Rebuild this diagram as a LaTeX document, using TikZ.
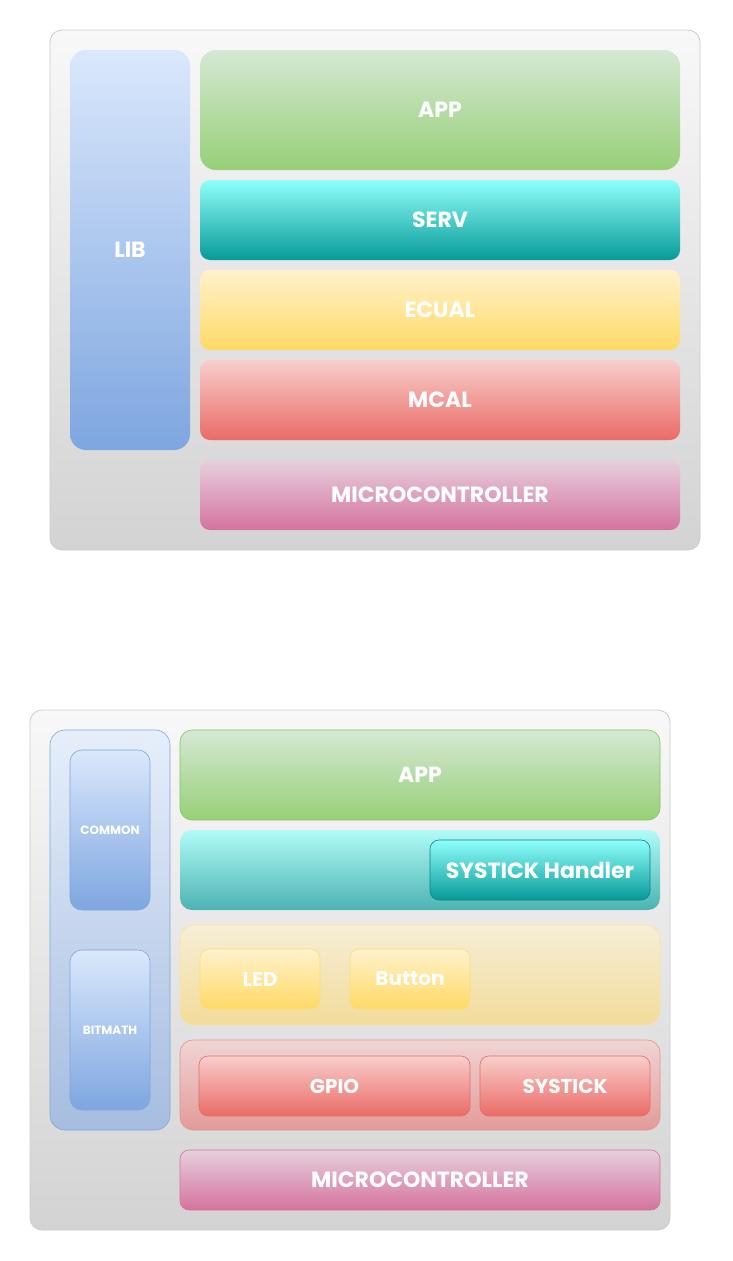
\documentclass[tikz,border=0pt]{standalone}
\usepackage{fontspec}
\setmainfont{Poppins}
\begin{document}
\begin{tikzpicture}[x=1pt,y=-1pt,
  lay/.style={rectangle, inner sep=0pt, text=white, font=\bfseries\fontsize{22}{26}\selectfont},
  mid/.style={lay, font=\bfseries\fontsize{20}{24}\selectfont},
  tiny/.style={lay, font=\bfseries\fontsize{12}{14}\selectfont},
  outerbox/.style={rectangle, inner sep=0pt, draw={rgb,255:red,204;green,204;blue,204}, line width=0.8pt, rounded corners=12pt, top color={rgb,255:red,248;green,248;blue,248}, bottom color={rgb,255:red,211;green,211;blue,211}},
  libc/.style={top color={rgb,255:red,218;green,232;blue,252}, bottom color={rgb,255:red,126;green,166;blue,224}},
  appc/.style={top color={rgb,255:red,213;green,232;blue,212}, bottom color={rgb,255:red,151;green,208;blue,119}},
  servc/.style={top color={rgb,255:red,143;green,255;blue,251}, bottom color={rgb,255:red,7;green,154;blue,152}},
  ecualc/.style={top color={rgb,255:red,255;green,242;blue,204}, bottom color={rgb,255:red,255;green,217;blue,102}},
  mcalc/.style={top color={rgb,255:red,248;green,206;blue,204}, bottom color={rgb,255:red,234;green,107;blue,102}},
  microc/.style={top color={rgb,255:red,230;green,208;blue,222}, bottom color={rgb,255:red,213;green,115;blue,157}},
]
\useasboundingbox (0,0) rectangle (732,1261);
\fill[white] (0,0) rectangle (732,1261);

% ---------- top diagram ----------
\node[outerbox, minimum width=650pt, minimum height=520pt] (outer1) at (375,290) {};
\node[lay, libc, rounded corners=16pt, minimum width=120pt, minimum height=400pt] (lib1) at (130,250) {LIB};
\node[lay, appc, rounded corners=16pt, minimum width=480pt, minimum height=120pt] (app1) at (440,110) {APP};
\node[lay, servc, rounded corners=10pt, minimum width=480pt, minimum height=80pt] (serv1) at (440,220) {SERV};
\node[lay, ecualc, rounded corners=10pt, minimum width=480pt, minimum height=80pt] (ecual1) at (440,310) {ECUAL};
\node[lay, mcalc, rounded corners=10pt, minimum width=480pt, minimum height=80pt] (mcal1) at (440,400) {MCAL};
\node[lay, microc, rounded corners=10pt, minimum width=480pt, minimum height=70pt] (micro1) at (440,495) {MICROCONTROLLER};

% ---------- bottom diagram ----------
\node[outerbox, minimum width=640pt, minimum height=520pt] (outer2) at (350,970) {};
\node[rectangle, inner sep=0pt, rounded corners=15pt, draw={rgb,255:red,126;green,166;blue,224}, line width=0.6pt,
  top color={rgb,255:red,230;green,238;blue,250}, bottom color={rgb,255:red,166;green,189;blue,224},
  minimum width=120pt, minimum height=400pt] (lib2) at (110,930) {};
\node[tiny, libc, draw={rgb,255:red,126;green,166;blue,224}, line width=0.6pt, rounded corners=12pt, minimum width=80pt, minimum height=160pt] (common) at (110,830) {COMMON};
\node[tiny, libc, draw={rgb,255:red,126;green,166;blue,224}, line width=0.6pt, rounded corners=12pt, minimum width=80pt, minimum height=160pt] (bitmath) at (110,1030) {BITMATH};

\node[lay, appc, draw={rgb,255:red,130;green,196;blue,100}, line width=0.6pt, rounded corners=12pt, minimum width=480pt, minimum height=90pt] (app2) at (420,775) {APP};

\node[rectangle, inner sep=0pt, rounded corners=12pt,
  top color={rgb,255:red,176;green,251;blue,247}, bottom color={rgb,255:red,76;green,179;blue,178},
  minimum width=480pt, minimum height=80pt] (serv2) at (420,870) {};
\node[lay, servc, draw={rgb,255:red,14;green,128;blue,136}, line width=0.6pt, rounded corners=9pt, minimum width=220pt, minimum height=60pt] (handler) at (540,870) {SYSTICK Handler};

\node[rectangle, inner sep=0pt, rounded corners=14pt, draw={rgb,255:red,252;green,226;blue,155}, line width=0.6pt,
  top color={rgb,255:red,246;green,238;blue,214}, bottom color={rgb,255:red,242;green,220;blue,154},
  minimum width=480pt, minimum height=100pt] (ecual2) at (420,975) {};
\node[mid, ecualc, draw={rgb,255:red,252;green,222;blue,120}, line width=0.6pt, rounded corners=9pt, minimum width=120pt, minimum height=60pt] (led) at (260,979) {LED};
\node[mid, ecualc, draw={rgb,255:red,252;green,222;blue,120}, line width=0.6pt, rounded corners=9pt, minimum width=120pt, minimum height=60pt] (button) at (410,979) {Button};

\node[rectangle, inner sep=0pt, rounded corners=13pt, draw={rgb,255:red,240;green,140;blue,137}, line width=0.6pt,
  top color={rgb,255:red,239;green,213;blue,212}, bottom color={rgb,255:red,226;green,155;blue,153},
  minimum width=480pt, minimum height=90pt] (mcal2) at (420,1085) {};
\node[mid, mcalc, draw={rgb,255:red,234;green,107;blue,102}, line width=0.6pt, rounded corners=9pt, minimum width=271pt, minimum height=60pt] (gpio) at (334.5,1086) {GPIO};
\node[mid, mcalc, draw={rgb,255:red,234;green,107;blue,102}, line width=0.6pt, rounded corners=9pt, minimum width=170pt, minimum height=60pt] (systick) at (565,1086) {SYSTICK};

\node[lay, microc, draw={rgb,255:red,213;green,115;blue,157}, line width=0.6pt, rounded corners=9pt, minimum width=480pt, minimum height=60pt] (micro2) at (420,1180) {MICROCONTROLLER};
\end{tikzpicture}
\end{document}
